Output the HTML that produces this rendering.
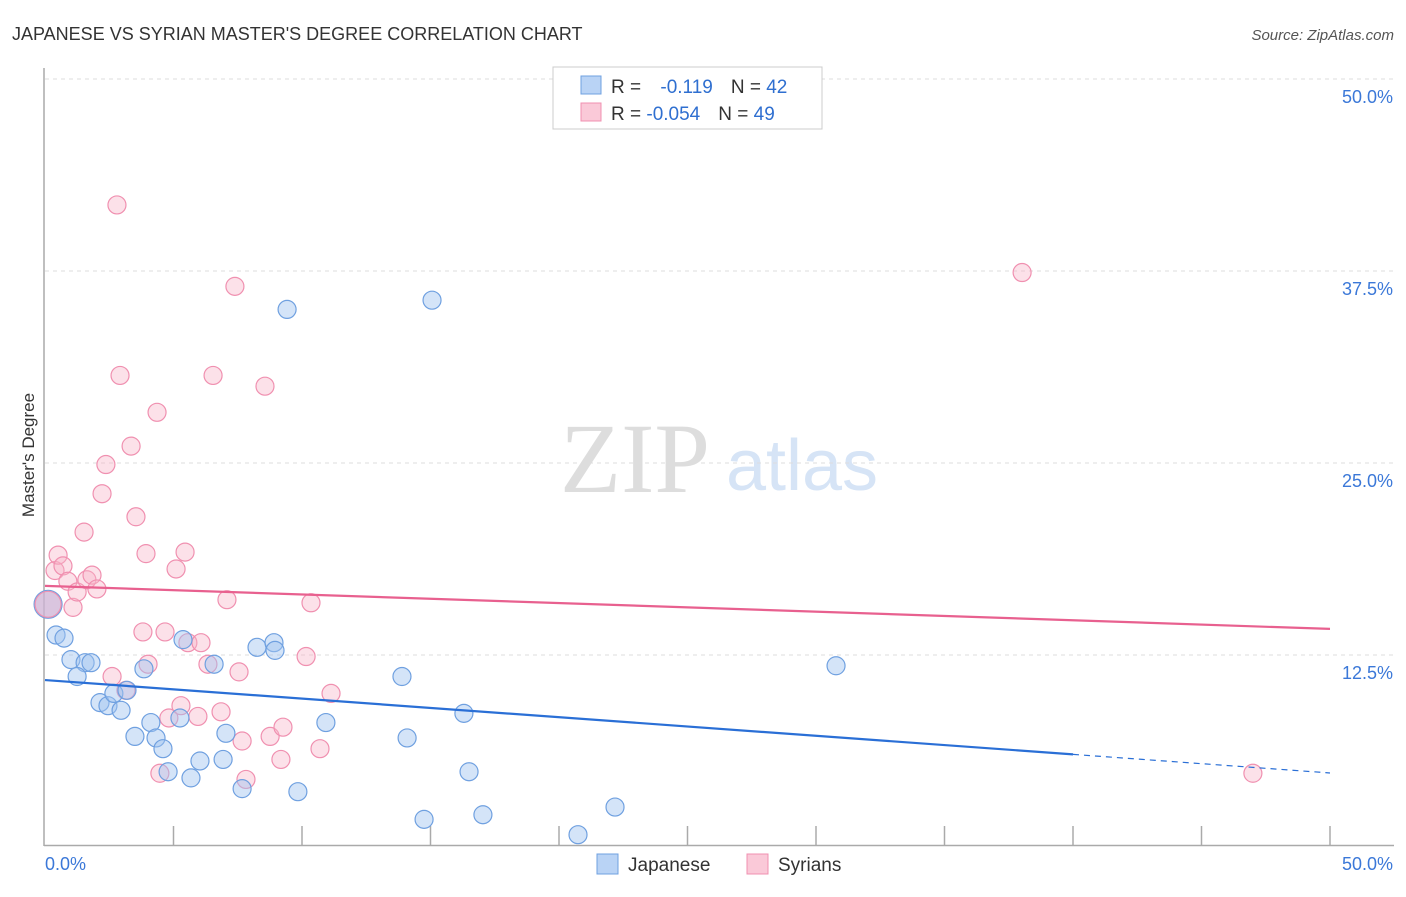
<!DOCTYPE html>
<html><head><meta charset="utf-8">
<style>
body{margin:0;background:#fff;font-family:"Liberation Sans",sans-serif;}
svg text{font-family:"Liberation Sans",sans-serif;}
svg text.serif{font-family:"Liberation Serif",serif;}
</style></head>
<body>
<svg id="chart" width="1406" height="892" xmlns="http://www.w3.org/2000/svg">
<text x="12" y="40" font-size="18" fill="#333">JAPANESE VS SYRIAN MASTER'S DEGREE CORRELATION CHART</text>
<text x="1394" y="40" font-size="15" fill="#555" font-style="italic" text-anchor="end">Source: ZipAtlas.com</text>
<text x="34" y="455" font-size="17" fill="#333" text-anchor="middle" transform="rotate(-90 34 455)">Master's Degree</text>
<g>
<text class="serif" x="635" y="492" font-size="100" fill="#ddd" text-anchor="middle">ZIP</text>
<text x="802" y="490" font-size="72" fill="#d6e4f6" text-anchor="middle">atlas</text>
</g>
<g id="grid"></g>
<g id="axes"></g>
<g id="marks"></g>
<g>
<rect x="553" y="67" width="269" height="62" fill="#fff" stroke="#ccc"/>
<rect x="581" y="76" width="20" height="18" fill="#b9d3f5" stroke="#6fa0e0"/>
<rect x="581" y="103" width="20" height="18" fill="#fac9d8" stroke="#f090b0"/>
<text x="611" y="93" font-size="19" fill="#333">R = <tspan fill="#2f6fd0" dx="14">-0.119</tspan><tspan fill="#333" dx="18">N = </tspan><tspan fill="#2f6fd0">42</tspan></text>
<text x="611" y="120" font-size="19" fill="#333">R = <tspan fill="#2f6fd0">-0.054</tspan><tspan fill="#333" dx="18">N = </tspan><tspan fill="#2f6fd0">49</tspan></text>
</g>
<g>
<rect x="597" y="854" width="21" height="20" fill="#b9d3f5" stroke="#6fa0e0"/>
<text x="628" y="871" font-size="19" fill="#333">Japanese</text>
<rect x="747" y="854" width="21" height="20" fill="#fac9d8" stroke="#f090b0"/>
<text x="778" y="871" font-size="19" fill="#333">Syrians</text>
</g>
</svg>
<script>
const yTicks=[12.5,25.0,37.5,50.0];
const yTickLabels=["12.5%","25.0%","37.5%","50.0%"];
const xTickCount=10;
const japX=[0.43,0.74,1.01,1.56,1.79,1.25,2.14,2.45,2.96,2.68,3.19,3.85,3.50,4.12,4.32,4.59,4.79,5.25,5.37,5.68,6.03,6.58,6.93,7.04,7.67,8.25,8.91,8.95,9.42,9.84,10.93,13.89,14.09,14.75,15.06,16.30,16.50,17.04,20.74,22.18,30.78];
const japY=[13.8,13.6,12.2,12.0,12.0,11.1,9.4,9.2,8.9,10.0,10.2,11.6,7.2,8.1,7.1,6.4,4.9,8.4,13.5,4.5,5.6,11.9,5.7,7.4,3.8,13.0,13.3,12.8,35.0,3.6,8.1,11.1,7.1,1.8,35.6,8.7,4.9,2.1,0.8,2.6,11.8];
const syrX=[0.39,0.51,0.70,0.89,1.09,1.25,1.52,1.63,1.83,2.02,2.22,2.37,2.61,2.80,2.92,3.15,3.35,3.54,3.81,3.93,4.01,4.36,4.47,4.67,4.82,5.10,5.29,5.45,5.56,5.95,6.07,6.34,6.54,6.85,7.08,7.39,7.55,7.67,7.82,8.56,8.76,9.18,9.26,10.16,10.35,10.70,11.13,38.02,47.00];
const syrY=[18.0,19.0,18.3,17.3,15.6,16.6,20.5,17.4,17.7,16.8,23.0,24.9,11.1,41.8,30.7,10.2,26.1,21.5,14.0,19.1,11.9,28.3,4.8,14.0,8.4,18.1,9.2,19.2,13.3,8.5,13.3,11.9,30.7,8.8,16.1,36.5,11.4,6.9,4.4,30.0,7.2,5.7,7.8,12.4,15.9,6.4,10.0,37.4,4.8];
const bigPoint=[0.12,15.8];
const japTrend=[10.87,4.82];
const syrTrend=[17.0,14.2];
const japSolidEnd=40;

const NS="http://www.w3.org/2000/svg";
const X0=45,X1=1330,Y0=847,Y50=79;
const sx=v=>X0+(v/50)*(X1-X0);
const sy=v=>Y0-(v/50)*(Y0-Y50);
function mk(tag,attrs,parent){const e=document.createElementNS(NS,tag);for(const k in attrs)e.setAttribute(k,attrs[k]);parent.appendChild(e);return e;}
const grid=document.getElementById('grid'),axes=document.getElementById('axes'),marks=document.getElementById('marks');
yTicks.forEach((t,i)=>{
  const l=mk('line',{x1:X0,x2:1394,y1:sy(t),y2:sy(t),stroke:'#ddd','stroke-dasharray':'4,4'},grid);
  
  
  const tx=mk('text',{x:1393,y:sy(t)+24,'font-size':18,fill:'#3b78d8','text-anchor':'end'},axes);
  tx.textContent=yTickLabels[i];
  
  
});
let a=mk('line',{x1:44,x2:44,y1:68,y2:846,stroke:'#aaa','stroke-width':1.5},axes);


a=mk('line',{x1:44,x2:1394,y1:845.5,y2:845.5,stroke:'#aaa','stroke-width':1.5},axes);


for(let i=1;i<=xTickCount;i++){
  const t=mk('line',{x1:sx(i*5),x2:sx(i*5),y1:826,y2:845,stroke:'#aaa','stroke-width':1.5},axes);
  
  
}
let tl=mk('text',{x:45,y:870,'font-size':18,fill:'#3b78d8'},axes);tl.textContent='0.0%';


tl=mk('text',{x:1393,y:870,'font-size':18,fill:'#3b78d8','text-anchor':'end'},axes);tl.textContent='50.0%';



function dot(x,y,r,fill,stroke,name){
  const c=mk('circle',{cx:sx(x),cy:sy(y),r:r,fill:fill,stroke:stroke,'stroke-width':1.2},marks);
  
  
}
const bf='rgba(160,195,240,0.45)',bs='#6fa0e0',pf='rgba(248,180,200,0.4)',ps='#f090b0';
syrX.forEach((x,i)=>dot(x,syrY[i],9,pf,ps,'syrians-point'));
japX.forEach((x,i)=>dot(x,japY[i],9,bf,bs,'japanese-point'));
dot(bigPoint[0],bigPoint[1],14,'rgba(160,195,240,0.5)',bs,'japanese-point-large');
dot(bigPoint[0],bigPoint[1],13,'rgba(230,170,200,0.5)',ps,'syrians-point-large');

let ln=mk('line',{x1:sx(0),y1:sy(syrTrend[0]),x2:sx(50),y2:sy(syrTrend[1]),stroke:'#e8608f','stroke-width':2.2},marks);


const jy=x=>japTrend[0]+(japTrend[1]-japTrend[0])*x/50;
ln=mk('line',{x1:sx(0),y1:sy(jy(0)),x2:sx(japSolidEnd),y2:sy(jy(japSolidEnd)),stroke:'#2a6fd6','stroke-width':2.2},marks);


ln=mk('line',{x1:sx(japSolidEnd),y1:sy(jy(japSolidEnd)),x2:sx(50),y2:sy(jy(50)),stroke:'#2a6fd6','stroke-width':1.2,'stroke-dasharray':'6,5'},marks);


</script>
</body></html>
